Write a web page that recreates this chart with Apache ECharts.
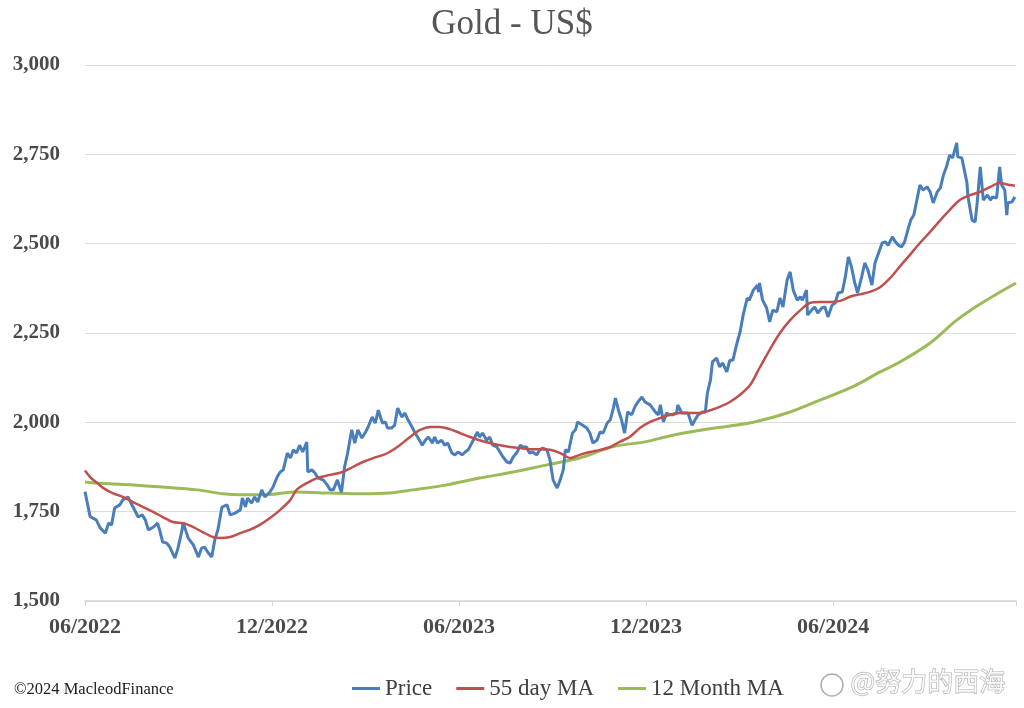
<!DOCTYPE html>
<html>
<head>
<meta charset="utf-8">
<script src="https://cdn.jsdelivr.net/npm/echarts@6/dist/echarts.min.js"></script>
<style>
html, body { margin: 0; padding: 0; background: #fff; }
#chart { width: 1024px; height: 708px; }
</style>
</head>
<body>
<div id="chart"></div>
<script>
// x values are days counted from 1 June 2022
var xTickLabels = ['06/2022', '12/2022', '06/2023', '12/2023', '06/2024'];

var priceDays = [0,5,11,15,20,23,26,29,34,37,42,47,52,56,59,62,67,71,73,76,80,83,88,91,95,96,101,106,111,114,117,120,124,127,130,134,139,142,147,152,
  154,157,159,163,166,169,173,176,181,184,188,191,194,198,201,204,207,210,213,217,218,222,225,228,233,237,240,243,247,250,251,254,257,261,264,267,271,274,277,281,284,287,291,294,296,
  300,303,306,310,313,316,320,323,326,330,333,336,340,342,345,349,352,355,359,362,365,369,372,375,379,384,386,389,393,396,399,403,406,409,413,416,419,423,426,429,432,435,438,442,445,448,452,455,458,462,465,468,470,473,
  477,480,482,487,491,494,497,501,504,507,511,514,517,519,522,525,528,531,535,538,541,545,548,553,558,561,563,566,569,572,575,579,580,584,587,590,594,597,600,604,607,609,612,614,618,621,624,628,631,634,
  638,641,644,648,650,654,658,659,660,663,667,670,673,677,680,683,687,690,693,697,700,702,706,707,711,714,717,721,724,727,731,734,737,741,744,747,750,753,756,760,763,766,
  770,773,776,780,783,786,790,793,796,799,802,806,808,811,814,817,820,824,827,830,834,837,840,843,846,849,853,854,858,861,863,864,868,871,873,876,879,883,886,888,892,895,897,900,902,903,907,910];
var priceValues = [1806,1736,1727,1704,1690,1718,1713,1760,1769,1783,1791,1763,1735,1741,1727,1699,1707,1718,1699,1665,1662,1651,1620,1648,1699,1720,1676,1657,1623,1648,1651,1637,1623,1671,1699,1763,1769,1741,1746,1755,
  1788,1763,1788,1774,1791,1777,1811,1791,1805,1819,1847,1861,1867,1914,1900,1923,1914,1936,1917,1945,1861,1867,1858,1844,1839,1825,1811,1811,1839,1811,1805,1875,1914,1979,1942,1979,1956,1970,1987,2015,1998,2034,1998,2001,1984,
  1984,1992,2040,2015,2026,2007,1987,1970,1956,1936,1950,1959,1942,1959,1942,1950,1936,1942,1914,1909,1917,1909,1917,1923,1945,1973,1959,1970,1950,1959,1936,1931,1917,1903,1889,1886,1903,1917,1936,1931,1931,1914,1917,1909,1923,1928,1923,1895,1839,1816,1839,1867,1923,1917,
  1970,1979,2001,1992,1984,1970,1942,1950,1973,1970,1998,2007,2040,2068,2034,2007,1970,2029,2021,2043,2057,2071,2057,2049,2029,2021,2049,2001,2026,2021,2021,2026,2049,2026,2026,2026,1992,2007,2021,2029,2029,2082,2118,2169,2180,2155,2166,2141,2174,2174,
  2222,2253,2300,2348,2342,2370,2384,2365,2390,2342,2320,2281,2314,2309,2348,2323,2398,2421,2370,2342,2351,2342,2370,2300,2314,2323,2306,2320,2323,2295,2328,2334,2362,2365,2407,2463,2435,2393,2362,2407,2446,2427,
  2384,2446,2470,2502,2505,2496,2519,2505,2496,2491,2505,2547,2566,2580,2622,2664,2650,2659,2645,2614,2645,2656,2692,2715,2748,2740,2782,2743,2740,2698,2670,2631,2566,2561,2614,2715,2622,2636,2622,2631,2628,2715,2664,2650,2580,2614,2617,2631];

var ma55Days = [0,5,12,18,27,37,47,57,67,76,86,96,106,115,125,132,142,152,161,171,181,191,201,207,217,227,240,252,262,272,282,292,298,308,318,328,338,347,357,367,377,386,396,406,416,426,435,445,455,465,475,
  484,494,504,514,523,533,543,553,563,572,582,592,602,612,621,631,641,651,660,670,680,690,700,709,719,729,739,749,758,768,778,788,797,807,817,827,837,846,856,866,876,886,895,905,910];
var ma55Values = [1865,1847,1830,1816,1802,1791,1777,1763,1749,1735,1721,1718,1707,1693,1679,1676,1679,1690,1699,1713,1732,1755,1783,1811,1830,1844,1853,1861,1875,1889,1900,1909,1917,1936,1959,1979,1987,1987,1981,1970,1959,1950,1942,1936,1931,1928,1925,1925,1923,1914,1900,
  1909,1917,1923,1931,1945,1959,1984,2001,2012,2021,2026,2026,2026,2034,2043,2057,2077,2105,2152,2203,2250,2286,2314,2334,2337,2337,2340,2352,2358,2365,2378,2404,2435,2468,2502,2533,2566,2594,2622,2636,2645,2659,2670,2664,2662];

var ma12Days = [0,12,44,76,110,135,152,174,207,240,272,298,321,354,386,419,452,484,517,549,572,605,631,654,687,719,751,778,797,827,853,881,911];
var ma12Values = [1833,1830,1825,1819,1811,1800,1797,1797,1805,1802,1800,1802,1811,1825,1844,1861,1881,1900,1932,1946,1962,1979,1990,2000,2026,2062,2099,2141,2168,2222,2286,2340,2390];

function pairs(days, values) {
  return days.map(function (d, i) { return [d, values[i]]; });
}

var myChart = echarts.init(document.getElementById('chart'));
var serif = '"Liberation Serif", "DejaVu Serif", serif';

var option = {
  backgroundColor: '#fff',
  animation: false,
  title: {
    text: 'Gold - US$',
    left: 'center',
    top: 2,
    textStyle: { fontFamily: serif, fontSize: 35, fontWeight: 'normal', color: '#555' }
  },
  legend: {
    left: 347,
    top: 672,
    itemWidth: 28,
    itemHeight: 3,
    itemGap: 24,
    icon: 'rect',
    textStyle: { fontFamily: serif, fontSize: 23, color: '#404040' },
    data: ['Price', '55 day MA', '12 Month MA']
  },
  grid: { left: 85, right: 8, top: 65, bottom: 107 },
  xAxis: {
    type: 'value',
    min: 0,
    max: 911,
    interval: 183,
    axisLine: { lineStyle: { color: '#d6d6d6', width: 1.5 } },
    axisTick: { show: true, length: 5, lineStyle: { color: '#d6d6d6' } },
    splitLine: { show: false },
    axisLabel: {
      margin: 15,
      fontFamily: serif,
      fontSize: 22,
      fontWeight: 'bold',
      color: '#4a4a4a',
      formatter: function (v) { return xTickLabels[Math.round(v / 183)] || ''; }
    }
  },
  yAxis: {
    type: 'value',
    min: 1500,
    max: 3000,
    interval: 250,
    axisLine: { show: false },
    axisTick: { show: false },
    splitLine: { lineStyle: { color: '#dcdcdc', width: 1 } },
    axisLabel: {
      margin: 25,
      fontFamily: serif,
      fontSize: 21,
      fontWeight: 'bold',
      color: '#4a4a4a',
      formatter: function (v) { return v.toLocaleString('en-US'); }
    }
  },
  series: [
    {
      name: 'Price',
      type: 'line',
      showSymbol: false,
      data: pairs(priceDays, priceValues),
      itemStyle: { color: '#4a7ebb' },
      lineStyle: { color: '#4a7ebb', width: 3 },
      z: 3
    },
    {
      name: '55 day MA',
      type: 'line',
      showSymbol: false,
      smooth: 0.3,
      data: pairs(ma55Days, ma55Values),
      itemStyle: { color: '#c0504d' },
      lineStyle: { color: '#c0504d', width: 2.5 },
      z: 4
    },
    {
      name: '12 Month MA',
      type: 'line',
      showSymbol: false,
      smooth: 0.3,
      data: pairs(ma12Days, ma12Values),
      itemStyle: { color: '#9bbb59' },
      lineStyle: { color: '#9bbb59', width: 3 },
      z: 2
    }
  ],
  graphic: [
    {
      type: 'text',
      left: 14,
      top: 681,
      style: { text: '©2024 MacleodFinance', font: '16.5px "Liberation Serif", serif', fill: '#222' }
    },
    {
      type: 'text',
      left: 850,
      top: 668,
      style: {
        text: '@努力的西海',
        font: '26px "Noto Sans CJK SC", sans-serif',
        fill: 'rgba(255,255,255,0.85)',
        stroke: 'rgba(120,120,120,0.6)',
        lineWidth: 1.2
      }
    },
    {
      type: 'circle',
      shape: { cx: 832, cy: 685, r: 11 },
      style: { fill: 'rgba(255,255,255,0.8)', stroke: 'rgba(120,120,120,0.6)', lineWidth: 1.5 }
    }
  ]
};

myChart.setOption(option);
</script>
</body>
</html>
